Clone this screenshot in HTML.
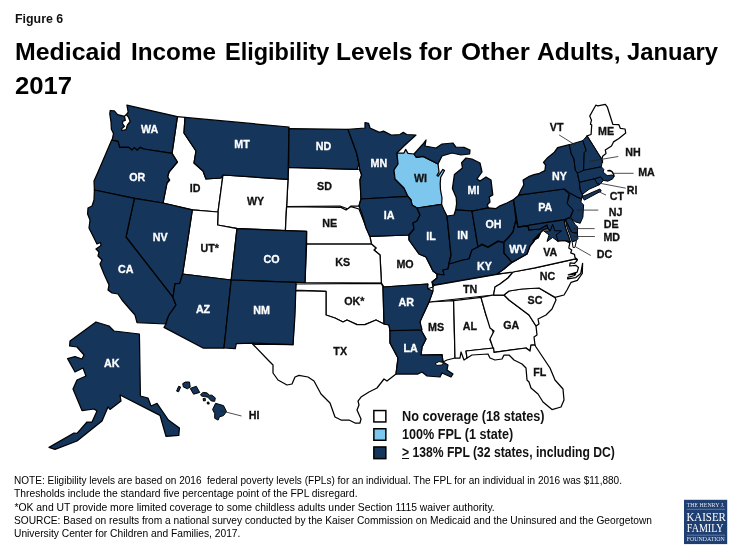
<!DOCTYPE html>
<html lang="en"><head><meta charset="utf-8"><title>Figure 6</title>
<style>
html,body{margin:0;padding:0;background:#fff;}
body{width:735px;height:551px;position:relative;overflow:hidden;font-family:"Liberation Sans",sans-serif;color:#000;}
.t{position:absolute;white-space:nowrap;transform-origin:0 0;line-height:1;}
#fig{left:14.9px;top:11.8px;font-size:13.6px;font-weight:bold;color:#111;transform:scaleX(.912);}
.h{font-size:24.8px;font-weight:bold;left:13.4px;color:#000;}
.n{font-size:10.4px;left:14.4px;color:#000;}
.lg{font-size:14px;font-weight:bold;left:401.6px;color:#111;}
#map text{font-family:"Liberation Sans",sans-serif;font-weight:bold;font-size:10.7px;}
</style></head><body>
<div class="t" id="fig">Figure 6</div>
<div class="t h" style="top:39.6px;left:14.59px;transform:scaleX(1.0039)">Medicaid</div>
<div class="t h" style="top:39.6px;left:130.74px;transform:scaleX(0.9798)">Income</div>
<div class="t h" style="top:39.6px;left:224.81px;transform:scaleX(0.9472)">Eligibility</div>
<div class="t h" style="top:39.6px;left:335.72px;transform:scaleX(0.9905)">Levels</div>
<div class="t h" style="top:39.6px;left:419.00px;transform:scaleX(1.0091)">for</div>
<div class="t h" style="top:39.6px;left:460.66px;transform:scaleX(1.0400)">Other</div>
<div class="t h" style="top:39.6px;left:536.70px;transform:scaleX(0.9951)">Adults,</div>
<div class="t h" style="top:39.6px;left:626.74px;transform:scaleX(0.9574)">January</div>
<div class="t h" id="h2" style="top:73.6px;left:15.4px;transform:scaleX(1.036)">2017</div>
<svg id="map" width="735" height="551" viewBox="0 0 735 551" style="position:absolute;left:0;top:0">
<path d="M177.4,116.6 L185.0,117.4 L184.0,133.0 L196.0,151.0 L194.0,163.0 L203.0,171.0 L206.0,179.0 L221.0,178.0 L223.0,175.0 L218,212 L192.3,209.8 L163,203 L167.0,183.0 L169.6,180.0 L167.6,177.0 L169.0,172.0 L177.4,162.0 L172.0,153.4Z" fill="#FFFFFF" stroke="#000" stroke-width="1.25" stroke-linejoin="round"/>
<path d="M288.6,167.4 L357.0,169.4 L359.6,169.0 L361.6,175.0 L360.0,180.0 L361.0,199.0 L359.0,206.0 L351.0,206.0 L348.0,209.0 L340.0,206.0 L286.6,206.6Z" fill="#FFFFFF" stroke="#000" stroke-width="1.25" stroke-linejoin="round"/>
<path d="M288.0,179.4 L286.6,206.6 L285.4,230.6 L237,228.4 L217.6,225 L218,212 L223.0,175.0Z" fill="#FFFFFF" stroke="#000" stroke-width="1.25" stroke-linejoin="round"/>
<path d="M370.0,236.4 L409.0,235.0 L409.0,238.0 L409.0,240.0 L419.0,254.0 L426.0,257.0 L433.0,271.0 L437.0,274.0 L437.0,278.0 L432.0,282.0 L433.0,287.0 L427.0,289.0 L428.0,284.0 L384.0,287.0 L381.4,283.0 L380.0,255.0 L374.0,250.0 L376.0,248.0 L371.4,244.0Z" fill="#FFFFFF" stroke="#000" stroke-width="1.25" stroke-linejoin="round"/>
<path d="M286.6,206.6 L341.0,207.4 L346.0,210.0 L351.0,206.6 L359.0,209.0 L370.0,237.0 L371.4,244.0 L306.6,244.0 L306.6,231.4 L285.4,230.6Z" fill="#FFFFFF" stroke="#000" stroke-width="1.25" stroke-linejoin="round"/>
<path d="M306.6,244.0 L371.4,244.0 L376.0,248.0 L374.0,250.0 L380.0,255.0 L381.4,283.0 L305.0,282.6Z" fill="#FFFFFF" stroke="#000" stroke-width="1.25" stroke-linejoin="round"/>
<path d="M192.3,209.8 L218,212 L217.6,225 L237,228.6 L231.2,280 L182.6,274Z" fill="#FFFFFF" stroke="#000" stroke-width="1.25" stroke-linejoin="round"/>
<path d="M296.0,284.0 L381.4,283.4 L383,287 L384,324 L376.0,320.0 L365.0,324.6 L357.0,324.6 L347.0,320.0 L343.0,322.0 L335.0,318.0 L326.0,315.0 L326.0,291.4 L295.4,290.0Z" fill="#FFFFFF" stroke="#000" stroke-width="1.25" stroke-linejoin="round"/>
<path d="M295.4,290.6 L326.0,291.4 L326.0,315.0 L335.0,318.0 L343.0,322.0 L347.0,320.0 L357.0,324.6 L365.0,324.6 L376.0,320.0 L384.0,324.0 L389,325 L390.0,330.6 L390.0,343.0 L398.0,358.0 L396.0,374.0 L387.0,381.0 L384.0,379.0 L377.0,388.0 L369.0,392.0 L361.0,397.0 L358.0,401.0 L359.0,405.0 L357.0,410.0 L361.0,419.0 L360.0,423.0 L355.0,423.0 L349.0,420.0 L341.0,420.0 L335.0,417.0 L330.0,403.0 L321.0,394.0 L314.0,381.0 L308.0,377.0 L299.0,375.4 L295.0,377.0 L292.0,384.0 L287.0,385.0 L278.0,380.0 L273.0,373.0 L273.0,365.0 L269.0,361.0 L252.6,344.0 L293.0,344.6Z" fill="#FFFFFF" stroke="#000" stroke-width="1.25" stroke-linejoin="round"/>
<path d="M429.0,302.0 L453.6,300.6 L454.0,315.0 L455.0,358.0 L447.0,360.0 L443.0,362.0 L442.0,354.6 L421.0,355.0 L422.0,347.0 L426.0,339.0 L421.0,330.0 L420.0,321.0 L423.0,315.0Z" fill="#FFFFFF" stroke="#000" stroke-width="1.25" stroke-linejoin="round"/>
<path d="M434.0,285.4 L497.0,274.4 L513.0,272.0 L508.0,278.0 L500.0,284.0 L495.0,287.0 L493.6,295.0 L429.0,302.0 L433.0,290.0 L433.0,287.0Z" fill="#FFFFFF" stroke="#000" stroke-width="1.25" stroke-linejoin="round"/>
<path d="M453.6,300.6 L481.0,297.4 L486.0,315.0 L493.6,333.0 L490.0,340.0 L493.6,348.0 L466.0,351.0 L467.0,358.0 L464.0,360.0 L461.0,352.0 L460.0,358.0 L455.0,358.0 L454.0,315.0Z" fill="#FFFFFF" stroke="#000" stroke-width="1.25" stroke-linejoin="round"/>
<path d="M481.0,297.4 L493.6,295.0 L504.0,295.0 L509.0,300.0 L529.0,315.0 L536.0,326.0 L537.0,335.0 L534.0,337.0 L535.0,345.0 L531.0,345.0 L530.0,351.0 L526.0,348.0 L494.0,352.4 L493.0,348.0 L490.0,339.0 L494.0,331.0 L490.0,328.0 L486.0,315.0Z" fill="#FFFFFF" stroke="#000" stroke-width="1.25" stroke-linejoin="round"/>
<path d="M466.0,351.0 L493.6,348.0 L494.0,352.4 L526.0,348.0 L530.0,351.0 L531.0,345.0 L535.0,345.0 L536.0,347.0 L550.0,368.0 L555.0,380.0 L563.0,389.0 L564.0,400.0 L561.0,407.0 L552.0,409.6 L543.0,402.0 L538.0,394.0 L531.0,388.0 L529.0,382.0 L527.0,380.0 L526.0,368.0 L522.0,364.0 L514.0,360.0 L509.0,355.0 L504.0,355.0 L502.0,359.0 L495.0,360.0 L490.0,358.0 L488.0,354.0 L472.0,355.0 L467.0,358.0Z" fill="#FFFFFF" stroke="#000" stroke-width="1.25" stroke-linejoin="round"/>
<path d="M504.0,295.0 L509.0,291.0 L522.0,289.0 L539.0,288.0 L555.0,297.4 L556.0,300.0 L552.0,309.0 L546.0,315.0 L538.0,319.0 L539.0,324.0 L536.0,326.0 L529.0,315.0 L509.0,300.0Z" fill="#FFFFFF" stroke="#000" stroke-width="1.25" stroke-linejoin="round"/>
<path d="M493.6,295.0 L495.0,287.0 L500.0,284.0 L508.0,278.0 L513.0,272.0 L535.0,267.8 L575.5,258.8 L577.2,260.6 L574.5,263.3 L570.1,262.9 L569.7,266.0 L575.8,265.3 L578.5,267.4 L577.2,272.1 L568.3,274.9 L575.8,273.8 L574.5,275.5 L567.7,277.3 L567.7,278.9 L575.8,277.6 L580.7,273.5 L582.6,263.3 L582.3,273.5 L577.4,280.3 L571.1,282.3 L567.0,290.0 L564.0,295.0 L555.0,297.4 L539.0,288.0 L522.0,289.0 L509.0,291.0 L504.0,295.0Z" fill="#FFFFFF" stroke="#000" stroke-width="1.25" stroke-linejoin="round"/>
<path d="M504.0,269.0 L512.0,262.4 L527.0,254.0 L530.0,246.0 L534.0,241.0 L539.0,234.0 L533.1,240.5 L538.3,237.6 L540.7,232.4 L543.6,229.5 L547.9,228.6 L553.6,233.8 L557.9,241.0 L565.0,240.5 L569.8,242.9 L568.8,248.1 L571.7,250.0 L570.7,252.9 L574.5,254.3 L575.0,257.6 L577.4,259.5 L575.5,258.8 L535.0,267.8 L513.0,272.0 L497.0,274.0Z" fill="#FFFFFF" stroke="#000" stroke-width="1.25" stroke-linejoin="round"/>
<path d="M595.8,105.2 L597.9,105.9 L605.3,104.3 L607.4,107.2 L612.8,124.3 L618.9,124.7 L620.3,128.3 L625.1,129.0 L625.7,133.1 L618.9,138.5 L613.5,141.9 L611.5,146.0 L605.3,150.1 L606.0,153.5 L602.6,156.2 L601.9,159.6 L587.0,135.8 L591.1,134.5 L591.7,124.9 L590.4,124.3 L591.5,120.2 L589.7,116.1 L592.4,111.3Z" fill="#FFFFFF" stroke="#000" stroke-width="1.25" stroke-linejoin="round"/>
<path d="M126.9,105.2 L177.4,116.6 L172.0,153.4 L143.6,149.0 L140.0,147.4 L137.2,150.2 L134.4,147.6 L132.0,150.2 L128.8,147.4 L119.6,147.4 L118.0,141.4 L111.6,140.2 L112.2,139.9 L113.5,133.4 L111.4,129.3 L111,121.9 L109.8,113.8 L110.2,110.5 L114.3,110.9 L117.6,114.6 L124.5,116.4 L126.3,114.6 L128.2,112.1Z" fill="#15355B" stroke="#000" stroke-width="1.25" stroke-linejoin="round"/>
<path d="M111.6,140.2 L118.0,141.4 L119.6,147.4 L128.8,147.4 L132.0,150.2 L134.4,147.6 L137.2,150.2 L140.0,147.4 L143.6,149.0 L172.0,153.4 L177.4,162.0 L169.0,172.0 L167.6,177.0 L169.6,180.0 L167.0,183.0 L163,203 L134.4,198.4 L94.4,190 L94,181 L98,172Z" fill="#15355B" stroke="#000" stroke-width="1.25" stroke-linejoin="round"/>
<path d="M185.0,117.4 L289.0,127.0 L288.0,179.4 L223.0,175.0 L221.0,178.0 L206.0,179.0 L203.0,171.0 L194.0,163.0 L196.0,151.0 L184.0,133.0Z" fill="#15355B" stroke="#000" stroke-width="1.25" stroke-linejoin="round"/>
<path d="M289.0,128.6 L348.0,129.4 L356.6,153.0 L359.0,164.0 L357.0,169.4 L288.6,167.4Z" fill="#15355B" stroke="#000" stroke-width="1.25" stroke-linejoin="round"/>
<path d="M348.0,129.4 L365.0,128.0 L365.0,122.6 L368.6,123.4 L370.0,128.0 L379.5,132.4 L383.5,131.1 L391.7,135.2 L399.9,134.5 L403.3,132.4 L406.7,134.5 L416.0,135.0 L404.0,146.0 L397.0,153.0 L398.0,164.0 L394.0,170.0 L395.0,179.0 L404.0,188.0 L408.0,196.4 L361.0,199.0 L360.0,180.0 L361.6,175.0 L359.6,169.0 L359.0,164.0 L356.6,153.0Z" fill="#15355B" stroke="#000" stroke-width="1.25" stroke-linejoin="round"/>
<path d="M397.0,153.0 L404.0,153.0 L405.6,149.4 L408.0,153.4 L414.0,154.0 L416.4,157.4 L423.0,156.4 L438.0,164.0 L439.0,172.0 L437.0,175.4 L438.2,176.2 L442.9,169.4 L444.5,170.5 L440.7,177.2 L440.2,183.5 L440.5,190 L442.0,198.0 L441.6,204.4 L417.0,208.0 L412.0,205.0 L411.0,200.0 L408.0,196.4 L404.0,188.0 L395.0,179.0 L394.0,170.0 L398.0,164.0Z" fill="#7DC7EF" stroke="#000" stroke-width="1.25" stroke-linejoin="round"/>
<path d="M414.0,154.0 L423.0,144.0 L426.0,140.0 L425.0,146.0 L436.0,148.0 L442.0,144.0 L453.0,143.0 L456.0,147.0 L464.0,147.4 L470.0,150.0 L469.6,154.0 L461.0,155.0 L452.0,153.0 L442.0,156.0 L438.0,164.0 L423.0,156.4 L416.4,157.4Z" fill="#15355B" stroke="#000" stroke-width="1.25" stroke-linejoin="round"/>
<path d="M456.6,203.5 L456.2,197.5 L452.4,188.6 L454.4,174.6 L462.4,168.0 L461.6,162.6 L466.0,158.0 L472.0,159.0 L480.0,163.0 L482.0,172.0 L477.0,179.0 L480.0,181.0 L486.0,177.0 L491.0,180.0 L492.8,194.9 L489.3,196.9 L490,202 L487.3,204.7 L488.3,207.8 L472.0,211.0 L455.7,209.8Z" fill="#15355B" stroke="#000" stroke-width="1.25" stroke-linejoin="round"/>
<path d="M361.0,199.0 L408.0,196.4 L411.0,200.0 L412.0,205.0 L417.0,208.0 L420.0,215.0 L417.0,221.0 L413.0,223.0 L414.0,229.0 L409.0,235.0 L370.0,236.4 L366.0,228.0 L362.0,214.0 L359.0,206.0Z" fill="#15355B" stroke="#000" stroke-width="1.25" stroke-linejoin="round"/>
<path d="M417.0,208.0 L441.6,204.4 L444.0,210.0 L447.0,216.0 L451.0,255.0 L449.0,263.0 L448.0,269.0 L443.0,270.0 L444.0,275.0 L437.0,274.0 L433.0,271.0 L426.0,257.0 L419.0,254.0 L409.0,240.0 L409.0,238.0 L409.0,235.0 L414.0,229.0 L413.0,223.0 L417.0,221.0 L420.0,215.0Z" fill="#15355B" stroke="#000" stroke-width="1.25" stroke-linejoin="round"/>
<path d="M447.0,216.0 L454.0,215.0 L455.7,209.8 L472.0,211.0 L478.0,247.0 L472.0,250.0 L469.0,259.0 L463.0,260.0 L453.0,263.0 L449.0,264.0 L451.0,255.0Z" fill="#15355B" stroke="#000" stroke-width="1.25" stroke-linejoin="round"/>
<path d="M472.0,211.0 L473.0,211.0 L488.4,207.8 L496.0,208.6 L500.0,205.8 L506.8,203.0 L513.6,199.6 L516.0,220.0 L513.0,232.0 L508.0,238.0 L504.0,242.0 L504.0,242.0 L498.0,241.0 L488.0,247.0 L482.0,244.0 L478.0,247.0Z" fill="#15355B" stroke="#000" stroke-width="1.25" stroke-linejoin="round"/>
<path d="M437.0,274.0 L444.0,275.0 L443.0,270.0 L448.0,269.0 L449.0,264.0 L453.0,263.0 L463.0,260.0 L469.0,259.0 L472.0,250.0 L478.0,247.0 L482.0,244.6 L488.0,247.4 L498.0,241.4 L504.0,243.0 L504.0,253.0 L512.0,262.0 L504.0,269.0 L497.0,274.0 L434.0,285.0 L432.0,282.0 L437.0,278.0Z" fill="#15355B" stroke="#000" stroke-width="1.25" stroke-linejoin="round"/>
<path d="M237,228.6 L306.6,231.4 L305.0,282.6 L231.2,280Z" fill="#15355B" stroke="#000" stroke-width="1.25" stroke-linejoin="round"/>
<path d="M134.4,198.4 L163,203 L192.3,209.8 L182.6,274 L179.8,283.4 L175,283.6 L173,297.4 L126,237Z" fill="#15355B" stroke="#000" stroke-width="1.25" stroke-linejoin="round"/>
<path d="M94.4,190 L134.4,198.4 L126,237 L173,297.4 L176,305 L169,315 L167,320 L166,324 L137,322.6 L135,315 L128,307 L122,300 L118,294 L112,293 L108,290 L109,285 L104,274 L100,264 L102,260 L98,256 L99,252 L96,249 L101,245.5 L100.5,242.5 L97,244 L94,238 L89,228 L90,220 L87.6,214 L88,208 L92,206 L94,200Z" fill="#15355B" stroke="#000" stroke-width="1.25" stroke-linejoin="round"/>
<path d="M182.6,274 L231.2,280 L224.0,348.0 L203.0,348.0 L164.0,327.4 L166,324 L167,320 L169,315 L176,305 L173,297.4 L175,283.6 L179.8,283.4Z" fill="#15355B" stroke="#000" stroke-width="1.25" stroke-linejoin="round"/>
<path d="M231.2,280 L296.0,282.4 L295.0,315.0 L293.0,344.6 L252.6,343.2 L236.3,343.6 L235.3,348.6 L224.0,348.0Z" fill="#15355B" stroke="#000" stroke-width="1.25" stroke-linejoin="round"/>
<path d="M383,287 L427.5,284 L428,289 L433,291 L429,302 L423,315 L420,322 L422,330 L390,331 L389,325 L384,324Z" fill="#15355B" stroke="#000" stroke-width="1.25" stroke-linejoin="round"/>
<path d="M390.0,330.6 L421.0,330.0 L426.0,339.0 L422.0,347.0 L421.0,355.0 L442.0,354.6 L443.0,362.0 L448.0,365.0 L447.0,370.0 L453.0,374.0 L451.0,377.0 L442.0,373.0 L440.0,377.0 L427.0,376.0 L422.0,372.0 L418.0,374.0 L396.0,374.0 L398.0,358.0 L390.0,343.0Z" fill="#15355B" stroke="#000" stroke-width="1.25" stroke-linejoin="round"/>
<path d="M516.0,220.0 L518.0,227.0 L528.0,226.0 L529.0,230.0 L540.0,229.0 L547.0,225.0 L547.9,228.6 L543.6,229.5 L540.7,232.4 L538.3,237.6 L533.1,240.5 L539.0,234.0 L534.0,241.0 L530.0,246.0 L527.0,254.0 L512.0,262.4 L504.0,253.0 L504.0,243.0 L504.0,242.0 L508.0,238.0 L513.0,232.0Z" fill="#15355B" stroke="#000" stroke-width="1.25" stroke-linejoin="round"/>
<path d="M513.6,199.6 L519.0,195.0 L564.0,189.0 L569.0,193.6 L567.4,203.0 L573.4,210.0 L570.0,217.6 L565.0,219.6 L518.0,227.0Z" fill="#15355B" stroke="#000" stroke-width="1.25" stroke-linejoin="round"/>
<path d="M518.6,195.1 L521.1,189.7 L523.8,184.9 L523.1,180.1 L528.6,176.7 L534,174.7 L539.5,173.3 L544.9,170.6 L545.6,165.2 L543.5,162.4 L547.6,157.7 L554.4,152.2 L557.6,147.6 L569.3,144.7 L571.3,153.5 L574.0,158.9 L575.4,170.0 L577.4,172.9 L579.5,182.4 L580.2,189.3 L581.5,192.7 L582.9,195.6 L581.5,198.8 L577.4,197.4 L570.0,193.3 L564.0,189.0Z" fill="#15355B" stroke="#000" stroke-width="1.25" stroke-linejoin="round"/>
<path d="M582.2,196.7 L599.9,189.0 L601.3,191.0 L584.3,200.1Z" fill="#15355B" stroke="#000" stroke-width="1.0" stroke-linejoin="round"/>
<path d="M570.0,193.3 L577.4,197.4 L581.5,198.8 L580.9,202.2 L583.6,204.9 L582.9,217.1 L580.2,223.3 L575.4,221.9 L570.6,217.8 L573.4,210.3 L567.2,203.5Z" fill="#15355B" stroke="#000" stroke-width="1.0" stroke-linejoin="round"/>
<path d="M582.9,140.6 L569.3,144.7 L571.3,153.5 L574.0,158.9 L575.4,170.0 L577.4,172.9 L578.8,172.9 L584.3,170.2 L583.6,170.0 L584.3,152.1 L586.3,150.8Z" fill="#15355B" stroke="#000" stroke-width="1.0" stroke-linejoin="round"/>
<path d="M587.0,135.8 L601.9,159.6 L602.6,163.0 L602.6,160.0 L601.3,166.8 L584.3,170.2 L583.6,170.0 L584.3,152.1 L586.3,150.8 L582.9,140.6Z" fill="#15355B" stroke="#000" stroke-width="1.0" stroke-linejoin="round"/>
<path d="M577.4,172.9 L584.3,170.2 L601.3,166.8 L603.8,169.4 L603.1,172.1 L607.2,175.6 L612,175.0 L614,176.2 L612.7,178.9 L607.9,181.2 L603.3,180.4 L600.6,177.0 L594.5,178.8 L579.5,182.4Z" fill="#15355B" stroke="#000" stroke-width="1.0" stroke-linejoin="round"/>
<path d="M594.5,178.8 L600.6,177.0 L603.3,180.4 L599.9,184.5 L597.2,183.8Z" fill="#15355B" stroke="#000" stroke-width="1.0" stroke-linejoin="round"/>
<path d="M579.5,182.4 L594.5,178.8 L597.2,183.8 L599.9,184.5 L589.0,189.3 L582.9,194.0 L581.5,192.7 L580.2,189.3Z" fill="#15355B" stroke="#000" stroke-width="1.0" stroke-linejoin="round"/>
<path d="M518.0,227.0 L565.0,219.6 L568.3,218.1 L565.5,220.0 L564.4,221.6 L565.7,228.1 L568.3,235.2 L570.5,241.9 L565.0,240.5 L557.9,241.0 L553.6,233.8 L547.9,228.6 L547.0,225.0 L540.0,229.0 L529.0,230.0 L528.0,226.0Z" fill="#15355B" stroke="#000" stroke-width="1.25" stroke-linejoin="round"/>
<path d="M565.5,220.0 L568.3,218.1 L571.7,219.0 L575.0,224.3 L577.6,227.0 L577.4,233.3 L571.7,232.4Z" fill="#15355B" stroke="#000" stroke-width="1.0" stroke-linejoin="round"/>
<path d="M565.5,220.0 L571.7,232.4 L577.4,233.3 L577.9,238.6 L576.4,240.5 L572.1,241.9 L569.8,234.8 L566.9,227.1Z" fill="#15355B" stroke="#000" stroke-width="1.0" stroke-linejoin="round"/>
<path d="M96.0,322.0 L109.0,326.0 L114.0,331.0 L139.4,334.0 L140.4,396.0 L148.0,398.0 L151.0,406.0 L157.0,403.4 L168.4,420.0 L179.4,428.0 L178.8,435.4 L166.0,436.4 L160.0,415.4 L120.0,395.0 L121.0,401.0 L110.0,409.4 L108.0,407.0 L102.0,421.0 L77.0,441.0 L55.0,449.4 L49.0,447.4 L74.0,433.0 L77.0,433.4 L87.0,422.0 L92.0,422.0 L97.0,411.0 L94.0,409.0 L82.0,410.6 L73.0,389.0 L77.0,380.0 L86.0,376.0 L83.0,368.0 L75.0,372.0 L67.6,358.6 L75.0,356.6 L82.0,359.0 L84.0,355.0 L77.0,347.0 L69.6,346.0 L70.0,341.0Z" fill="#15355B" stroke="#000" stroke-width="1.25" stroke-linejoin="round"/>
<path d="M176.6,391.1 L178.6,386.3 L180.6,387.0 L178.6,391.8Z" fill="#15355B" stroke="#000" stroke-width="1.0" stroke-linejoin="round"/>
<path d="M182.7,383.6 L185.4,382.0 L189.5,382.0 L190.2,387.0 L187.4,388.8 L183.4,387.0Z" fill="#15355B" stroke="#000" stroke-width="1.0" stroke-linejoin="round"/>
<path d="M190.2,388.4 L196.3,386.3 L199.7,392.4 L193.6,394.2Z" fill="#15355B" stroke="#000" stroke-width="1.0" stroke-linejoin="round"/>
<path d="M200.6,394.5 L203.1,392.4 L207.2,392.9 L209.2,395.2 L211.9,395.2 L215.3,397.9 L214.7,401.3 L211.3,401.0 L207.9,397.2 L204.5,396.5 L201.5,396.1Z" fill="#15355B" stroke="#000" stroke-width="1.0" stroke-linejoin="round"/>
<path d="M203.1,398.6 L205.1,398.2 L205.5,400.6 L203.5,401.0Z" fill="#15355B" stroke="#000" stroke-width="1.0" stroke-linejoin="round"/>
<path d="M207.2,402.2 L208.8,402.0 L209.2,404.0 L207.4,404.0Z" fill="#15355B" stroke="#000" stroke-width="1.0" stroke-linejoin="round"/>
<path d="M215.6,403.3 L223.5,405.6 L226.5,411.5 L223.5,415.6 L219.4,416.9 L218.1,420.1 L214.7,418.3 L214.7,413.5 L212.6,409.5Z" fill="#15355B" stroke="#000" stroke-width="1.0" stroke-linejoin="round"/>
<path d="M552.6,224.3 L554.8,230.8 L561.6,230.9 L556.1,234.9 L558.2,241.5 L552.6,237.5 L547.0,241.5 L549.1,234.9 L543.6,230.9 L550.4,230.8Z" fill="#15355B" stroke="#000" stroke-width="1.0" stroke-linejoin="round"/>
<path d="M126.3,114.6 L128.6,117.4 L130.2,121.5 L127.3,125.2 L126.1,129.7 L122,130.5 L121.6,128.9 L124.5,126.4 L122.4,123.6 L122.9,121.1 L125.3,120.3 L124.5,116.4Z" fill="#FFFFFF" stroke="#000" stroke-width="1.25" stroke-linejoin="round"/>
<path d="M435.0,363.6 L439.0,361.6 L443.6,362.6 L442.0,365.0 L437.0,365.4Z" fill="#FFFFFF" stroke="#000" stroke-width="1.0" stroke-linejoin="round"/>
<path d="M576.4,240.5 L575.0,247.3 L573.1,247.6 L572.1,241.9Z" fill="#FFFFFF" stroke="#000" stroke-width="1.0" stroke-linejoin="round"/>
<rect x="373.85" y="410.55" width="12" height="11.40" fill="#FFFFFF" stroke="#000" stroke-width="1.5"/>
<rect x="373.85" y="428.75" width="12" height="11.50" fill="#7DC7EF" stroke="#000" stroke-width="1.5"/>
<rect x="373.85" y="446.95" width="12" height="11.70" fill="#15355B" stroke="#000" stroke-width="1.5"/>
<path d="M614,176.2 L613.4,173.8 L612,171.6 L609.9,170.5 L607.9,170.7" fill="none" stroke="#000" stroke-width="1.5" stroke-linecap="round" stroke-linejoin="round"/>
<line x1="559.1" y1="134.9" x2="575.4" y2="145.1" stroke="#222" stroke-width="0.8"/>
<line x1="589.0" y1="161.4" x2="618.3" y2="156.5" stroke="#222" stroke-width="0.8"/>
<line x1="612.8" y1="173.3" x2="633.6" y2="173.3" stroke="#222" stroke-width="0.8"/>
<line x1="600.6" y1="183.4" x2="625.7" y2="188.2" stroke="#222" stroke-width="0.8"/>
<line x1="595.8" y1="190.2" x2="606.0" y2="195.1" stroke="#222" stroke-width="0.8"/>
<line x1="576.8" y1="210.1" x2="598.3" y2="210.1" stroke="#222" stroke-width="0.8"/>
<line x1="573.1" y1="228.6" x2="594.6" y2="228.6" stroke="#222" stroke-width="0.8"/>
<line x1="573.8" y1="236.5" x2="594.9" y2="236.5" stroke="#222" stroke-width="0.8"/>
<line x1="575.8" y1="247.0" x2="590.8" y2="255.5" stroke="#222" stroke-width="0.8"/>
<line x1="220.1" y1="410.5" x2="241.5" y2="416.0" stroke="#222" stroke-width="0.8"/>
<text x="149.7" y="132.6" text-anchor="middle" fill="#fff" stroke="#fff" stroke-width="0.3">WA</text>
<text x="137.2" y="181" text-anchor="middle" fill="#fff" stroke="#fff" stroke-width="0.3">OR</text>
<text x="125.7" y="273.4" text-anchor="middle" fill="#fff" stroke="#fff" stroke-width="0.3">CA</text>
<text x="160.3" y="241" text-anchor="middle" fill="#fff" stroke="#fff" stroke-width="0.3">NV</text>
<text x="195" y="192" text-anchor="middle" fill="#111" stroke="#111" stroke-width="0.3">ID</text>
<text x="242" y="147.6" text-anchor="middle" fill="#fff" stroke="#fff" stroke-width="0.3">MT</text>
<text x="255.5" y="205.2" text-anchor="middle" fill="#111" stroke="#111" stroke-width="0.3">WY</text>
<text x="209.8" y="252" text-anchor="middle" fill="#111" stroke="#111" stroke-width="0.3">UT*</text>
<text x="271.5" y="262.6" text-anchor="middle" fill="#fff" stroke="#fff" stroke-width="0.3">CO</text>
<text x="203" y="313" text-anchor="middle" fill="#fff" stroke="#fff" stroke-width="0.3">AZ</text>
<text x="261.6" y="313.6" text-anchor="middle" fill="#fff" stroke="#fff" stroke-width="0.3">NM</text>
<text x="323.5" y="150" text-anchor="middle" fill="#fff" stroke="#fff" stroke-width="0.3">ND</text>
<text x="324.5" y="189.6" text-anchor="middle" fill="#111" stroke="#111" stroke-width="0.3">SD</text>
<text x="329.7" y="227" text-anchor="middle" fill="#111" stroke="#111" stroke-width="0.3">NE</text>
<text x="342.8" y="266.2" text-anchor="middle" fill="#111" stroke="#111" stroke-width="0.3">KS</text>
<text x="354.4" y="304.6" text-anchor="middle" fill="#111" stroke="#111" stroke-width="0.3">OK*</text>
<text x="340.2" y="354.6" text-anchor="middle" fill="#111" stroke="#111" stroke-width="0.3">TX</text>
<text x="378.8" y="167" text-anchor="middle" fill="#fff" stroke="#fff" stroke-width="0.3">MN</text>
<text x="389" y="219" text-anchor="middle" fill="#fff" stroke="#fff" stroke-width="0.3">IA</text>
<text x="405" y="268" text-anchor="middle" fill="#111" stroke="#111" stroke-width="0.3">MO</text>
<text x="406.3" y="306" text-anchor="middle" fill="#fff" stroke="#fff" stroke-width="0.3">AR</text>
<text x="410.7" y="352.2" text-anchor="middle" fill="#fff" stroke="#fff" stroke-width="0.3">LA</text>
<text x="420.5" y="182" text-anchor="middle" fill="#111" stroke="#111" stroke-width="0.3">WI</text>
<text x="431" y="239.8" text-anchor="middle" fill="#fff" stroke="#fff" stroke-width="0.3">IL</text>
<text x="462.6" y="239" text-anchor="middle" fill="#fff" stroke="#fff" stroke-width="0.3">IN</text>
<text x="473.5" y="194" text-anchor="middle" fill="#fff" stroke="#fff" stroke-width="0.3">MI</text>
<text x="493.5" y="228.1" text-anchor="middle" fill="#fff" stroke="#fff" stroke-width="0.3">OH</text>
<text x="484.5" y="269.6" text-anchor="middle" fill="#fff" stroke="#fff" stroke-width="0.3">KY</text>
<text x="470" y="292.6" text-anchor="middle" fill="#111" stroke="#111" stroke-width="0.3">TN</text>
<text x="436" y="330.6" text-anchor="middle" fill="#111" stroke="#111" stroke-width="0.3">MS</text>
<text x="469.8" y="330.2" text-anchor="middle" fill="#111" stroke="#111" stroke-width="0.3">AL</text>
<text x="511.3" y="328.5" text-anchor="middle" fill="#111" stroke="#111" stroke-width="0.3">GA</text>
<text x="539.7" y="376" text-anchor="middle" fill="#111" stroke="#111" stroke-width="0.3">FL</text>
<text x="535" y="304" text-anchor="middle" fill="#111" stroke="#111" stroke-width="0.3">SC</text>
<text x="547.5" y="279.6" text-anchor="middle" fill="#111" stroke="#111" stroke-width="0.3">NC</text>
<text x="550.3" y="255.9" text-anchor="middle" fill="#111" stroke="#111" stroke-width="0.3">VA</text>
<text x="517.9" y="252.8" text-anchor="middle" fill="#fff" stroke="#fff" stroke-width="0.3">WV</text>
<text x="545.3" y="211.2" text-anchor="middle" fill="#fff" stroke="#fff" stroke-width="0.3">PA</text>
<text x="559.4" y="180" text-anchor="middle" fill="#fff" stroke="#fff" stroke-width="0.3">NY</text>
<text x="606" y="135.1" text-anchor="middle" fill="#111" stroke="#111" stroke-width="0.3">ME</text>
<text x="556.6" y="131" text-anchor="middle" fill="#111" stroke="#111" stroke-width="0.3">VT</text>
<text x="633" y="155.5" text-anchor="middle" fill="#111" stroke="#111" stroke-width="0.3">NH</text>
<text x="646.5" y="176" text-anchor="middle" fill="#111" stroke="#111" stroke-width="0.3">MA</text>
<text x="632.2" y="194" text-anchor="middle" fill="#111" stroke="#111" stroke-width="0.3">RI</text>
<text x="616.9" y="199.7" text-anchor="middle" fill="#111" stroke="#111" stroke-width="0.3">CT</text>
<text x="615.7" y="215.5" text-anchor="middle" fill="#111" stroke="#111" stroke-width="0.3">NJ</text>
<text x="611.2" y="228.3" text-anchor="middle" fill="#111" stroke="#111" stroke-width="0.3">DE</text>
<text x="611.7" y="240.9" text-anchor="middle" fill="#111" stroke="#111" stroke-width="0.3">MD</text>
<text x="604.5" y="257.9" text-anchor="middle" fill="#111" stroke="#111" stroke-width="0.3">DC</text>
<text x="111.7" y="367" text-anchor="middle" fill="#fff" stroke="#fff" stroke-width="0.3">AK</text>
<text x="254.2" y="419" text-anchor="middle" fill="#111" stroke="#111" stroke-width="0.3">HI</text>
</svg>
<div class="t lg" id="l1" style="top:409.40px;transform:scaleX(0.9071)">No coverage (18 states)</div>
<div class="t lg" id="l2" style="top:426.7px;transform:scaleX(0.9008)">100% FPL (1 state)</div>
<div class="t lg" id="l3" style="top:445.4px;transform:scaleX(0.8681)"><u>&gt;</u> 138% FPL (32 states, including DC)</div>
<div class="t n" id="n1" style="top:476.10px;transform:scaleX(0.966)">NOTE: Eligibility levels are based on 2016&nbsp; federal poverty levels (FPLs) for an individual. The FPL for an individual in 2016 was $11,880.</div>
<div class="t n" id="n2" style="top:489.45px;transform:scaleX(0.991)">Thresholds include the standard five percentage point of the FPL disregard.</div>
<div class="t n" id="n3" style="top:502.80px;transform:scaleX(1.0)">*OK and UT provide more limited coverage to some childless adults under Section 1115 waiver authority.</div>
<div class="t n" id="n4" style="top:516.15px;transform:scaleX(0.98)">SOURCE: Based on results from a national survey conducted by the Kaiser Commission on Medicaid and the Uninsured and the Georgetown</div>
<div class="t n" id="n5" style="top:528.7px;transform:scaleX(0.985)">University Center for Children and Families, 2017.</div>
<svg width="735" height="551" viewBox="0 0 735 551" style="position:absolute;left:0;top:0;font-family:'Liberation Serif',serif" fill="#fff">
<rect x="684" y="499.8" width="43.2" height="44.3" fill="#1F3F73"/>
<text x="686.8" y="507.1" font-size="5.4" textLength="37.6" lengthAdjust="spacingAndGlyphs" fill="#dfe6f0">THE HENRY J.</text>
<line x1="686.8" y1="509.3" x2="725" y2="509.3" stroke="#9fb0cc" stroke-width="0.5"/>
<text x="686.4" y="521.4" font-size="12.7" textLength="39.5" lengthAdjust="spacingAndGlyphs">KAISER</text>
<text x="686.8" y="532.3" font-size="12.9" textLength="36.8" lengthAdjust="spacingAndGlyphs">FAMILY</text>
<line x1="686.8" y1="535.2" x2="725" y2="535.2" stroke="#9fb0cc" stroke-width="0.5"/>
<text x="686.8" y="541.2" font-size="5.2" textLength="37.9" lengthAdjust="spacingAndGlyphs" fill="#dfe6f0">FOUNDATION</text>
</svg>
</body></html>
